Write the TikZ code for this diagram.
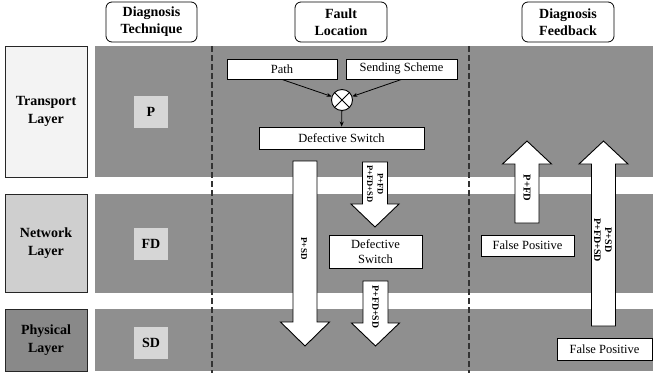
\documentclass[tikz,border=0pt]{standalone}
\usepackage{fontspec}
\setmainfont{Liberation Serif}
\usetikzlibrary{arrows.meta,calc}
\definecolor{bandgray}{HTML}{8F8F8F}
\definecolor{techgray}{HTML}{D6D6D6}
\definecolor{transportfill}{HTML}{F3F3F3}
\definecolor{networkfill}{HTML}{CFCFCF}
\definecolor{physicalfill}{HTML}{898989}
\begin{document}
\begin{tikzpicture}[x=1pt,y=-1pt,
  header/.style={draw=black, line width=0.8pt, fill=white, rounded corners=6pt,
    align=center, font=\fontsize{14}{17}\selectfont\bfseries, inner sep=0pt,
    minimum height=40pt},
  layerbox/.style={draw=black!85, line width=0.8pt, align=center,
    font=\fontsize{14}{18.5}\selectfont\bfseries, inner sep=0pt, minimum width=82pt},
  tech/.style={fill=techgray, minimum width=34pt, minimum height=32pt,
    font=\fontsize{14}{16}\selectfont\bfseries, inner sep=0pt},
  box/.style={draw=black, line width=0.9pt, fill=white,
    font=\fontsize{12.5}{15}\selectfont, inner sep=0pt, align=center},
  band/.style={fill=bandgray},
  sep/.style={draw=black!80, line width=1.3pt, dash pattern=on 6pt off 3pt},
  blockarrow/.style={draw=black, line width=0.9pt, fill=white, line join=miter},
  alabel/.style={rotate=-90, align=center, inner sep=0pt},
  link/.style={-{Stealth[length=5pt,width=4pt]}, line width=0.8pt}
]
\useasboundingbox (0,0) rectangle (653,373);

% layer bands
\fill[band] (95,46) rectangle (653,177);
\fill[band] (95,194) rectangle (653,293);
\fill[band] (95,309) rectangle (653,371);

% column separators
\draw[sep] (212,46) -- (212,373);
\draw[sep] (469,46) -- (469,373);

% column headers
\node[header, minimum width=91pt] (hdt) at (151.5,22) {Diagnosis\\Technique};
\node[header, minimum width=92pt] (hfl) at (341,22) {Fault\\Location};
\node[header, minimum width=92pt] (hdf) at (568,22) {Diagnosis\\Feedback};

% layer names
\node[layerbox, fill=transportfill, minimum height=131pt] (ltr) at (46,111.5) {Transport\\Layer};
\node[layerbox, fill=networkfill, minimum height=98pt] (lnw) at (46,243) {Network\\Layer};
\node[layerbox, fill=physicalfill, minimum height=62pt] (lph) at (46,340) {Physical\\Layer};

% diagnosis techniques
\node[tech] (tp) at (151,112) {P};
\node[tech] (tfd) at (151,244) {FD};
\node[tech] (tsd) at (151,342.5) {SD};

% fault location inputs
\node[box, minimum width=110pt, minimum height=20pt] (path) at (282,69) {Path};
\node[box, minimum width=111pt, minimum height=20pt] (send) at (401.5,69) {Sending Scheme};
\node[draw=black, line width=0.9pt, fill=white, circle, minimum size=21pt, inner sep=0pt] (mix) at (342,100) {};
\draw[line width=0.9pt] (mix.45) -- (mix.225) (mix.135) -- (mix.315);
\node[box, minimum width=165pt, minimum height=22pt] (ds1) at (341.5,138) {Defective Switch};
\draw[link] (path.south) -- (mix);
\draw[link] (send.south) -- (mix);
\draw[link] (mix) -- (ds1);

% downward block arrows
\draw[blockarrow] (293,161) -- (317,161) -- (317,322) -- (329.5,322) -- (305,346)
  -- (280.5,322) -- (293,322) -- cycle;
\node[alabel, font=\fontsize{9}{10}\selectfont\bfseries] (a1) at (304,248.5) {P+SD};

\draw[blockarrow] (362.5,162) -- (387.5,162) -- (387.5,204) -- (399,204) -- (375,227)
  -- (351,204) -- (362.5,204) -- cycle;
\node[alabel, font=\fontsize{8.5}{10.5}\selectfont\bfseries] (a2) at (375,184) {P+FD\\P+FD+SD};

\node[box, minimum width=93pt, minimum height=33pt] (ds2) at (375.5,251.5) {Defective\\Switch};

\draw[blockarrow] (363,281) -- (388,281) -- (388,323) -- (399.5,323) -- (375.5,346)
  -- (351.5,323) -- (363,323) -- cycle;
\node[alabel, font=\fontsize{9.7}{11}\selectfont\bfseries] (a3) at (375.5,307) {P+FD+SD};

% upward block arrows
\draw[blockarrow] (515,223) -- (539,223) -- (539,164) -- (551.5,164) -- (527,141)
  -- (502.5,164) -- (515,164) -- cycle;
\node[alabel, font=\fontsize{10.5}{12}\selectfont\bfseries] (a4) at (527,188) {P+FD};

\draw[blockarrow] (591.5,326) -- (615.5,326) -- (615.5,164) -- (628,164) -- (603.5,141)
  -- (579,164) -- (591.5,164) -- cycle;
\node[alabel, font=\fontsize{10}{11}\selectfont\bfseries] (a5) at (603,240) {P+SD\\P+FD+SD};

% diagnosis feedback
\node[box, minimum width=93pt, minimum height=21pt] (fp1) at (527.5,245.5) {False Positive};
\node[box, minimum width=95pt, minimum height=22pt] (fp2) at (604.5,349) {False Positive};
\end{tikzpicture}
\end{document}
